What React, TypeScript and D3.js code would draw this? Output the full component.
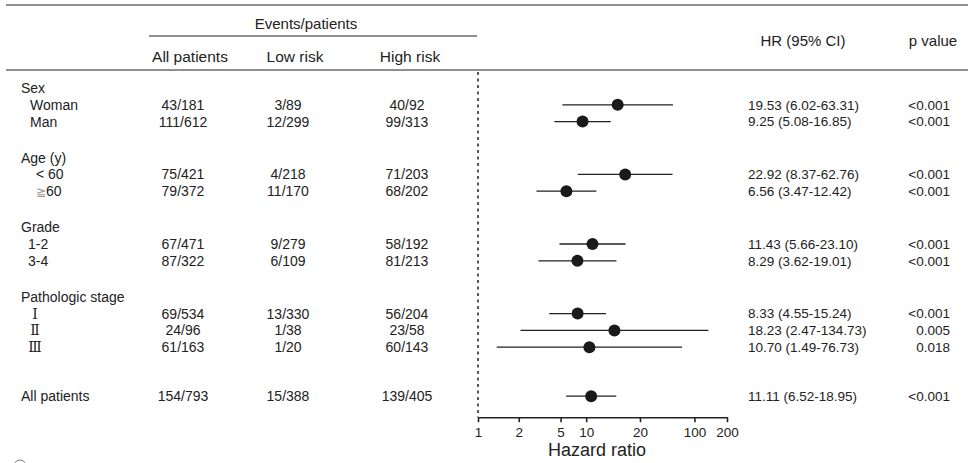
import React, { useRef, useEffect } from 'react';
import * as d3 from 'd3';

// Rows of the table (group headers carry no data)
const groups = ['Sex', 'Age (y)', 'Grade', 'Pathologic stage'];
const subgroups = [
  ['Woman', 'Man'],
  ['< 60', '≧60'],
  ['1-2', '3-4'],
  ['Ⅰ', 'Ⅱ', 'Ⅲ'],
];
const overallLabel = 'All patients';

// Events/patients, in row order (subgroups then overall)
const allPatients = ['43/181', '111/612', '75/421', '79/372', '67/471', '87/322', '69/534', '24/96', '61/163', '154/793'];
const lowRisk = ['3/89', '12/299', '4/218', '11/170', '9/279', '6/109', '13/330', '1/38', '1/20', '15/388'];
const highRisk = ['40/92', '99/313', '71/203', '68/202', '58/192', '81/213', '56/204', '23/58', '60/143', '139/405'];

// Hazard ratios and 95% CI
const hr = [19.53, 9.25, 22.92, 6.56, 11.43, 8.29, 8.33, 18.23, 10.7, 11.11];
const ciLow = [6.02, 5.08, 8.37, 3.47, 5.66, 3.62, 4.55, 2.47, 1.49, 6.52];
const ciHigh = [63.31, 16.85, 62.76, 12.42, 23.1, 19.01, 15.24, 134.73, 76.73, 18.95];
const pValues = ['<0.001', '<0.001', '<0.001', '<0.001', '<0.001', '<0.001', '<0.001', '0.005', '0.018', '<0.001'];

// Axis ticks as printed in the figure (labels sit where the original put them)
const tickLabels = ['1', '2', '5', '10', '20', '100', '200'];
const tickAt = [1, 2.38, 5.8, 10, 31.4, 100, 200];

const WIDTH = 976;
const HEIGHT = 463;
const INK = '#222';
const FONT = '"Liberation Sans", Arial, Helvetica, sans-serif';

const ForestPlot: React.FC = () => {
  const svgRef = useRef<SVGSVGElement>(null);

  useEffect(() => {
    if (!svgRef.current) return;
    document.body.style.margin = '0';
    const svg = d3.select(svgRef.current);
    svg.selectAll('*').remove();

    // layout
    const left = 6;
    const right = 968;
    const colAll = 183;
    const colLow = 288;
    const colHigh = 407;
    const hrX = 748;
    const pX = 950;
    const rowStep = 16.8;
    const groupGap = 36;
    const firstY = 88;
    const indent = [30, 36, 28, 35];

    // build row positions
    type Row = { label: string; y: number; header: boolean; idx: number; g: number };
    const rows: Row[] = [];
    let y = firstY;
    let idx = 0;
    groups.forEach((gname, gi) => {
      if (gi > 0) y += groupGap;
      rows.push({ label: gname, y, header: true, idx: -1, g: gi });
      subgroups[gi].forEach(s => {
        y += rowStep;
        rows.push({ label: s, y, header: false, idx: idx++, g: gi });
      });
    });
    y += 49;
    rows.push({ label: overallLabel, y, header: true, idx: idx, g: -1 });
    const lastY = y;

    const x = d3.scaleLog().domain([1, 200]).range([478, 727]);
    const axisY = lastY + 21;

    // rules
    const rule = (x1: number, x2: number, yy: number) =>
      svg.append('line')
        .attr('x1', x1).attr('x2', x2).attr('y1', yy).attr('y2', yy)
        .attr('stroke', INK).attr('stroke-width', 1.2);
    rule(left, right, 5);
    rule(149, 477, 36);
    rule(left, right, 70);

    const text = (tx: number, ty: number, s: string, anchor = 'start', size = 13.5) =>
      svg.append('text')
        .attr('x', tx).attr('y', ty).attr('dy', '0.35em')
        .attr('text-anchor', anchor)
        .attr('font-family', FONT)
        .attr('font-size', size)
        .attr('fill', INK)
        .text(s);

    // headers
    text(306, 24, 'Events/patients', 'middle', 15);
    text(190, 57, 'All patients', 'middle', 15.5);
    text(295, 57, 'Low risk', 'middle', 15.5);
    text(410, 57, 'High risk', 'middle', 15.5);
    text(803, 41, 'HR (95% CI)', 'middle', 15);
    text(933, 41, 'p value', 'middle', 15);

    // reference line at HR = 1
    svg.append('line')
      .attr('x1', x(1)).attr('x2', x(1))
      .attr('y1', 72).attr('y2', axisY)
      .attr('stroke', INK).attr('stroke-width', 1.5)
      .attr('stroke-dasharray', '3,3.5');

    rows.forEach(r => {
      if (r.header) {
        text(21, r.y, r.label, 'start', 14);
      } else {
        const roman = /[ⅠⅡⅢ]/.test(r.label);
        const t = text(indent[r.g], r.y, r.label, roman ? 'middle' : 'start', 14);
        if (roman) t.attr('font-family', '"DejaVu Serif", "Liberation Serif", serif').attr('font-size', 14);
        if (r.label.startsWith('≧')) {
          t.text(null);
          t.append('tspan').attr('font-family', '"DejaVu Sans", sans-serif').attr('font-size', 12).attr('fill', '#999').text('≧');
          t.append('tspan').text(r.label.slice(1));
        }
      }
      if (r.idx < 0) return;
      const i = r.idx;
      text(colAll, r.y, allPatients[i], 'middle', 14);
      text(colLow, r.y, lowRisk[i], 'middle', 14);
      text(colHigh, r.y, highRisk[i], 'middle', 14);
      text(hrX, r.y, `${hr[i].toFixed(2)} (${ciLow[i].toFixed(2)}-${ciHigh[i].toFixed(2)})`, 'start');
      text(pX, r.y, pValues[i], 'end');

      svg.append('line')
        .attr('x1', x(ciLow[i])).attr('x2', x(ciHigh[i]))
        .attr('y1', r.y).attr('y2', r.y)
        .attr('stroke', INK).attr('stroke-width', 1.3);
      svg.append('circle')
        .attr('cx', x(hr[i])).attr('cy', r.y).attr('r', 6)
        .attr('fill', '#1a1a1a');
    });

    // axis
    const axis = svg.append('g')
      .attr('transform', `translate(0,${axisY})`)
      .call(d3.axisBottom(x)
        .tickValues(tickAt)
        .tickFormat((_, i) => tickLabels[i])
        .tickSize(5)
        .tickSizeOuter(0));
    axis.select('.domain').attr('stroke', INK).attr('stroke-width', 1.6);
    axis.selectAll('.tick line').attr('stroke', INK).attr('stroke-width', 1.6);
    axis.selectAll('.tick text')
      .attr('font-family', FONT)
      .attr('font-size', 13.5)
      .attr('fill', INK)
      .attr('dy', '0.85em');

    svg.append('text')
      .attr('x', 597).attr('y', axisY + 32).attr('dy', '0.35em')
      .attr('text-anchor', 'middle')
      .attr('font-family', FONT)
      .attr('font-size', 18)
      .attr('fill', INK)
      .text('Hazard ratio');

    // cut-off mark at the bottom-left corner
    svg.append('circle')
      .attr('cx', 20).attr('cy', 466).attr('r', 6)
      .attr('fill', 'none').attr('stroke', '#777').attr('stroke-width', 1);
  }, []);

  return <svg ref={svgRef} width={WIDTH} height={HEIGHT} style={{ display: 'block', background: '#fff' }} />;
};

export default function App() {
  return <ForestPlot />;
}
